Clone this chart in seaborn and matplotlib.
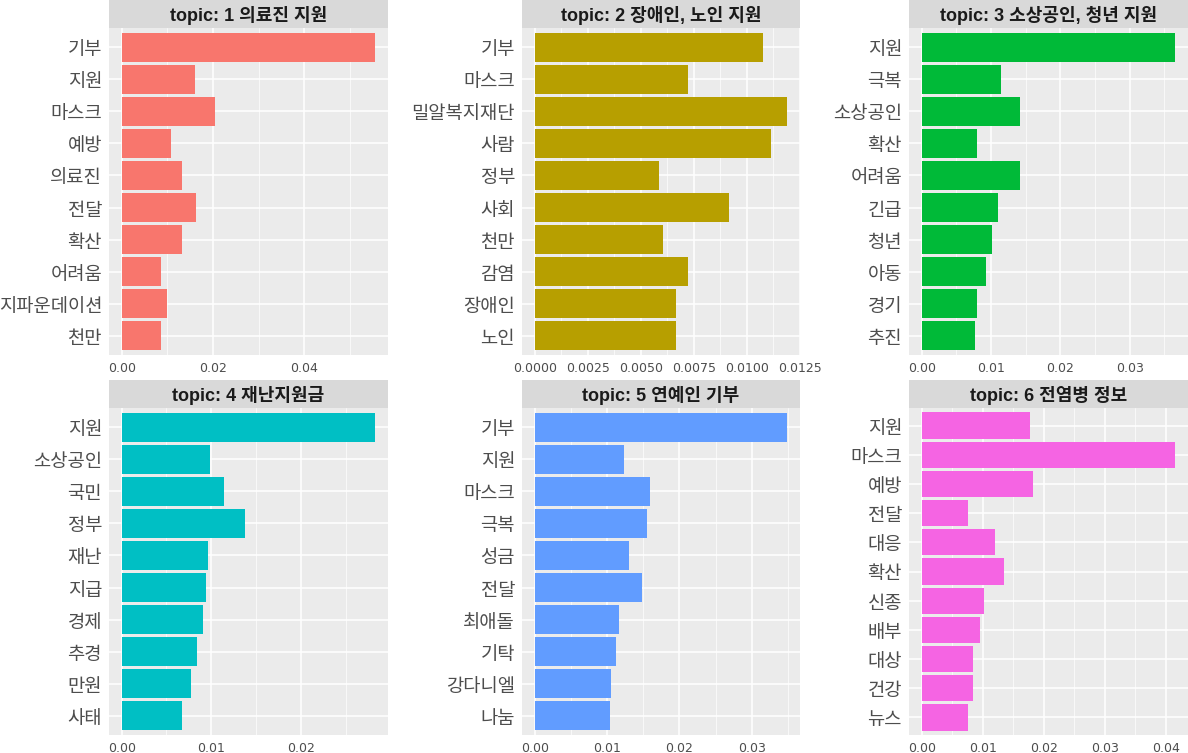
import numpy as np
import pandas as pd
import seaborn as sns
import matplotlib.pyplot as plt
from matplotlib.ticker import FixedLocator

sns.set_style("darkgrid")
plt.rcParams['font.family'] = ['Noto Sans CJK KR', 'DejaVu Sans']

# ---------------------------------------------------------------------------
# 데이터 (토픽별 상위 단어와 beta 값)
# ---------------------------------------------------------------------------
topic_titles = ["topic: 1 의료진 지원", "topic: 2 장애인, 노인 지원",
                "topic: 3 소상공인, 청년 지원", "topic: 4 재난지원금",
                "topic: 5 연예인 기부", "topic: 6 전염병 정보"]

terms_1 = ["기부", "지원", "마스크", "예방", "의료진", "전달", "확산", "어려움", "지파운데이션", "천만"]
beta_1 = [0.0556, 0.0160, 0.0204, 0.0109, 0.0132, 0.0162, 0.0132, 0.0086, 0.0099, 0.0086]

terms_2 = ["기부", "마스크", "밀알복지재단", "사람", "정부", "사회", "천만", "감염", "장애인", "노인"]
beta_2 = [0.01077, 0.00724, 0.01192, 0.01114, 0.00588, 0.00917, 0.00607, 0.00724, 0.00668, 0.00668]

terms_3 = ["지원", "극복", "소상공인", "확산", "어려움", "긴급", "청년", "아동", "경기", "추진"]
beta_3 = [0.0366, 0.0114, 0.0142, 0.0080, 0.0142, 0.0110, 0.0101, 0.0093, 0.0080, 0.0077]

terms_4 = ["지원", "소상공인", "국민", "정부", "재난", "지급", "경제", "추경", "만원", "사태"]
beta_4 = [0.0283, 0.0099, 0.0114, 0.0138, 0.0096, 0.0094, 0.0091, 0.0084, 0.0077, 0.0067]

terms_5 = ["기부", "지원", "마스크", "극복", "성금", "전달", "최애돌", "기탁", "강다니엘", "나눔"]
beta_5 = [0.0349, 0.0124, 0.0159, 0.0155, 0.0130, 0.0148, 0.0116, 0.0113, 0.0105, 0.0104]

terms_6 = ["지원", "마스크", "예방", "전달", "대응", "확산", "신종", "배부", "대상", "건강", "뉴스"]
beta_6 = [0.0177, 0.0416, 0.0182, 0.0076, 0.0120, 0.0135, 0.0102, 0.0095, 0.0084, 0.0084, 0.0076]

x_ticks = [[0.0, 0.02, 0.04],
           [0.0, 0.0025, 0.005, 0.0075, 0.01, 0.0125],
           [0.0, 0.01, 0.02, 0.03],
           [0.0, 0.01, 0.02],
           [0.0, 0.01, 0.02, 0.03],
           [0.0, 0.01, 0.02, 0.03, 0.04]]
x_fmt = ["%.2f", "%.4f", "%.2f", "%.2f", "%.2f", "%.2f"]

# ggplot 기본 색상 (hue 6개)
colors = ["#F8766D", "#B79F00", "#00BA38", "#00BFC4", "#619CFF", "#F564E3"]

all_terms = [terms_1, terms_2, terms_3, terms_4, terms_5, terms_6]
all_betas = [beta_1, beta_2, beta_3, beta_4, beta_5, beta_6]

df = pd.concat([pd.DataFrame({"topic": i + 1, "term": t, "beta": b})
                for i, (t, b) in enumerate(zip(all_terms, all_betas))],
               ignore_index=True)

# ---------------------------------------------------------------------------
# 그림 (facet_wrap 스타일, 패널 위치는 픽셀 단위)
# ---------------------------------------------------------------------------
W, H = 1188, 753
fig = plt.figure(figsize=(W / 100, H / 100), dpi=100)
fig.patch.set_facecolor("white")

cols = [(109, 388), (522, 800), (909, 1188)]
rows = [(28, 355), (408, 735)]
strip_h = 28

for i in range(6):
    r, c = divmod(i, 3)
    x0, x1 = cols[c]
    y0, y1 = rows[r]
    ax = fig.add_axes([x0 / W, 1 - y1 / H, (x1 - x0) / W, (y1 - y0) / H])
    ax.set_facecolor("#EBEBEB")

    sub = df[df["topic"] == i + 1]
    terms = all_terms[i]
    sns.barplot(data=sub, x="beta", y="term", order=terms, color=colors[i],
                saturation=1, width=0.9, ax=ax, edgecolor="none", zorder=3)

    n = len(terms)
    bmax = sub["beta"].max()
    ax.set_xlim(-0.05 * bmax, 1.05 * bmax)
    ax.set_ylim(n - 1 + 0.6, -0.6)
    ax.set_xlabel("")
    ax.set_ylabel("")

    ticks = x_ticks[i]
    ax.set_xticks(ticks)
    ax.set_xticklabels([x_fmt[i] % t for t in ticks], fontsize=9, color="#4D4D4D",
                       family=["DejaVu Sans"])
    step = ticks[1] - ticks[0]
    minors = np.arange(ticks[0] - step / 2, 1.05 * bmax + step, step)
    ax.xaxis.set_minor_locator(FixedLocator(minors))
    ax.tick_params(axis="y", labelsize=13.5, labelcolor="#4D4D4D", length=3,
                   width=0.8, color="#333333", pad=2)
    ax.tick_params(axis="x", length=3, width=0.8, color="#333333", pad=2)
    ax.tick_params(which="minor", length=0)

    ax.grid(which="major", color="white", linewidth=1.1, zorder=0)
    ax.grid(which="minor", axis="x", color="white", linewidth=0.5, zorder=0)
    ax.set_axisbelow(True)
    for s in ax.spines.values():
        s.set_visible(False)

    # 스트립 (패널 제목)
    sax = fig.add_axes([x0 / W, 1 - y0 / H, (x1 - x0) / W, strip_h / H])
    sax.set_facecolor("#D9D9D9")
    sax.set_xticks([])
    sax.set_yticks([])
    for s in sax.spines.values():
        s.set_visible(False)
    sax.text(0.5, 0.45, topic_titles[i], ha="center", va="center",
             fontsize=13, fontweight="bold", color="#1A1A1A",
             family=["Liberation Sans", "Noto Sans CJK KR"],
             transform=sax.transAxes)

fig.savefig("out.png", dpi=100)
